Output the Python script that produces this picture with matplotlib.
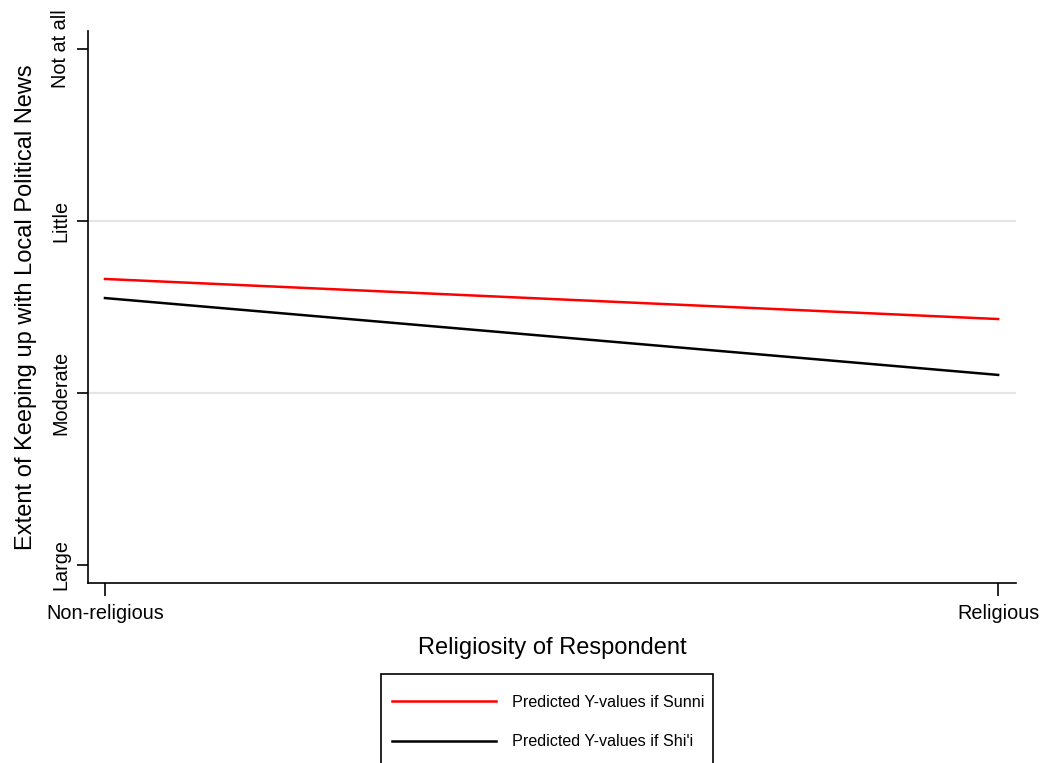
import matplotlib
matplotlib.use("Agg")
import matplotlib.pyplot as plt
from matplotlib.patches import Rectangle

plt.rcParams['font.family'] = ['Liberation Sans', 'DejaVu Sans']

x_labels = ["Non-religious", "Religious"]
x_vals = [0, 1]
sunni = [2.663, 2.430]
shii = [2.552, 2.105]
y_ticks = [1, 2, 3, 4]
y_labels = ["Large", "Moderate", "Little", "Not at all"]

W, H = 1046, 763
fig = plt.figure(figsize=(W/100, H/100), dpi=100)
ax = fig.add_axes([88/W, 1-583/H, (1016-88)/W, (583-31)/H])

ax.plot(x_vals, sunni, color='#ff0000', lw=1.8, label="Predicted Y-values if Sunni")
ax.plot(x_vals, shii, color='black', lw=1.8, label="Predicted Y-values if Shi'i")

ax.set_xlim(-0.019, 1.020)
ax.set_ylim(0.895, 4.105)
ax.set_xticks(x_vals)
ax.set_xticklabels(x_labels, fontsize=14.3)
ax.set_yticks(y_ticks)
ax.set_yticklabels(y_labels, fontsize=14.3, rotation=90, va='center')
for yv in [2, 3]:
    ax.axhline(yv, color='#e5e5e5', lw=1.5, zorder=0)
ax.spines['top'].set_visible(False)
ax.spines['right'].set_visible(False)
ax.spines['left'].set_linewidth(1.2)
ax.spines['bottom'].set_linewidth(1.2)
ax.tick_params(axis='x', direction='out', length=9, width=1.2, pad=6)
ax.tick_params(axis='y', direction='out', length=8, width=1.2, pad=5)
ax.set_xlabel("Religiosity of Respondent", fontsize=17, labelpad=10)
ax.set_ylabel("Extent of Keeping up with Local Political News", fontsize=17, labelpad=10)

leg = fig.legend(loc='upper left', bbox_to_anchor=(382/W, 1-685/H),
                 fontsize=11.6, handlelength=6.45, handletextpad=1.05,
                 labelspacing=1.52, borderpad=0.6, borderaxespad=0,
                 frameon=False)
fig.patches.append(Rectangle((381/W, -0.02), (713-381)/W, (763-674)/H + 0.02,
                             transform=fig.transFigure, fill=False,
                             edgecolor='black', lw=1.2))

fig.savefig("out.png", dpi=100)
